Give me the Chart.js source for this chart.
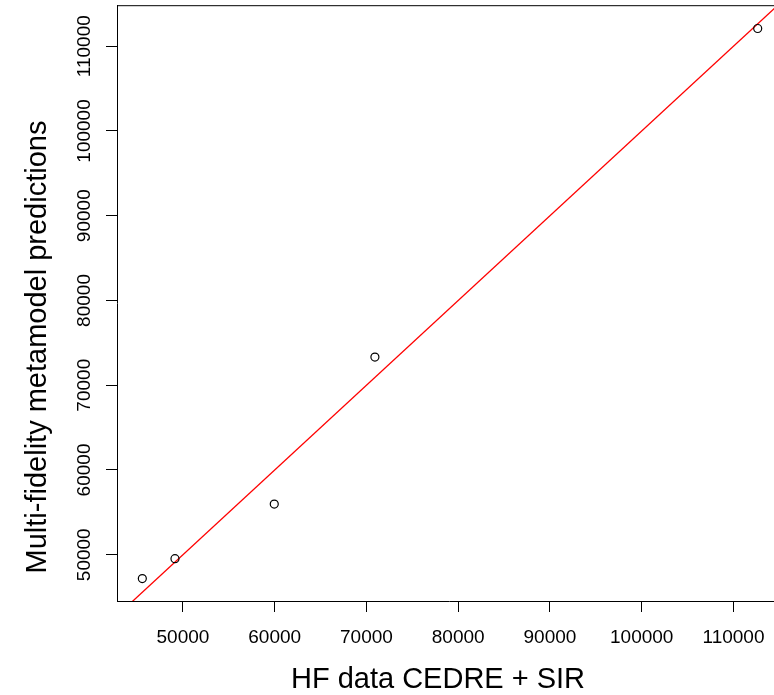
<!DOCTYPE html>
<html>
<head>
<meta charset="utf-8">
<script src="https://cdn.jsdelivr.net/npm/chart.js@4.4.1/dist/chart.umd.min.js"></script>
<style>
  html, body { margin: 0; padding: 0; background: #fff; overflow: hidden; }
  #wrap { position: relative; width: 790px; height: 695px; }
</style>
</head>
<body>
<div id="wrap"><canvas id="c"></canvas></div>
<script>
// Data
const hfData = [45570, 49130, 59950, 70920, 112640];          // x: HF data CEDRE + SIR
const mfPredictions = [47190, 49530, 55980, 73320, 112090];    // y: metamodel predictions
const identityLine = [40000, 120000];                          // y = x reference line
const xTicks = [50000, 60000, 70000, 80000, 90000, 100000, 110000];
const yTicks = [50000, 60000, 70000, 80000, 90000, 100000, 110000];
const xRange = [42810, 115180];
const yRange = [44540, 114840];
const xTitle = 'HF data CEDRE + SIR';
const yTitle = 'Multi-fidelity metamodel predictions';

const FONT = '"Liberation Sans", Arial, Helvetica, sans-serif';

const titlesPlugin = {
  id: 'titles',
  afterDraw(chart) {
    const ctx = chart.ctx;
    const a = chart.chartArea;
    ctx.save();
    // top border of the plot box
    ctx.strokeStyle = '#000';
    ctx.lineWidth = 1;
    ctx.beginPath();
    ctx.moveTo(a.left, a.top + 0.5);
    ctx.lineTo(a.right, a.top + 0.5);
    ctx.moveTo(a.right - 0.5, a.top);
    ctx.lineTo(a.right - 0.5, a.bottom);
    ctx.stroke();
    ctx.fillStyle = '#000';
    ctx.font = '29px ' + FONT;
    ctx.textAlign = 'center';
    ctx.textBaseline = 'alphabetic';
    ctx.fillText(xTitle, 438, 688);
    ctx.translate(46, 347);
    ctx.rotate(-Math.PI / 2);
    ctx.fillText(yTitle, 0, 0);
    ctx.restore();
  }
};

const scatterPoints = hfData.map((x, i) => ({ x: x, y: mfPredictions[i] }));
const linePoints = identityLine.map(v => ({ x: v, y: v }));

new Chart(document.getElementById('c'), {
  type: 'scatter',
  data: {
    datasets: [
      {
        type: 'line',
        data: linePoints,
        borderColor: '#ff0000',
        borderWidth: 1.3,
        pointRadius: 0,
        fill: false,
        order: 2
      },
      {
        type: 'scatter',
        data: scatterPoints,
        pointStyle: 'circle',
        pointRadius: 4,
        pointHoverRadius: 4,
        borderColor: '#000',
        borderWidth: 1.2,
        backgroundColor: 'rgba(0,0,0,0)',
        order: 1
      }
    ]
  },
  options: {
    responsive: true,
    maintainAspectRatio: false,
    animation: false,
    events: [],
    layout: { padding: { top: 5, right: 9, left: 0, bottom: 0 } },
    plugins: {
      legend: { display: false },
      tooltip: { enabled: false },
      title: { display: false }
    },
    scales: {
      x: {
        type: 'linear',
        position: 'bottom',
        min: xRange[0],
        max: xRange[1],
        afterBuildTicks: s => { s.ticks = xTicks.map(v => ({ value: v })); },
        afterFit: s => { s.height = 94; },
        grid: { drawOnChartArea: false, drawTicks: true, tickLength: 11, color: '#000', lineWidth: 1 },
        border: { display: true, color: '#000', width: 1 },
        ticks: {
          color: '#000',
          font: { family: FONT, size: 19 },
          padding: 14,
          maxRotation: 0,
          autoSkip: false,
          callback: v => String(v)
        }
      },
      y: {
        type: 'linear',
        position: 'left',
        min: yRange[0],
        max: yRange[1],
        afterBuildTicks: s => { s.ticks = yTicks.map(v => ({ value: v })); },
        afterFit: s => { s.width = 117; },
        grid: { drawOnChartArea: false, drawTicks: true, tickLength: 11, color: '#000', lineWidth: 1 },
        border: { display: true, color: '#000', width: 1 },
        ticks: {
          color: '#000',
          font: { family: FONT, size: 19 },
          padding: -10,
          minRotation: 90,
          maxRotation: 90,
          crossAlign: 'center',
          autoSkip: false,
          callback: v => String(v)
        }
      }
    }
  },
  plugins: [titlesPlugin]
});
</script>
</body>
</html>
